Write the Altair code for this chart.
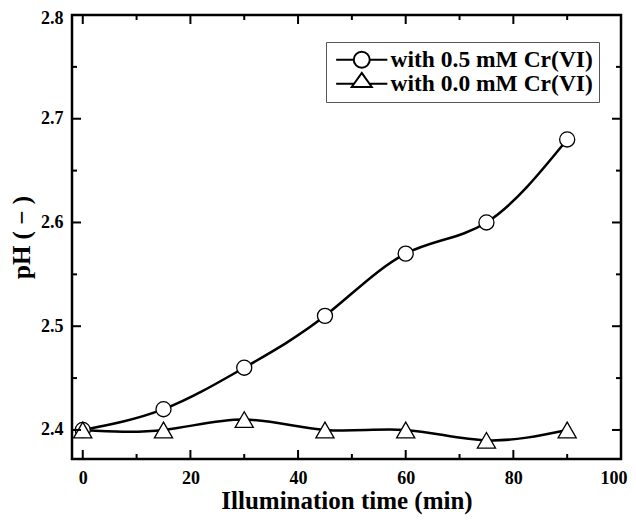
import altair as alt
import pandas as pd

# ---- data ----
time_min = [0, 15, 30, 45, 60, 75, 90]
ph_cr05 = [2.40, 2.42, 2.46, 2.51, 2.57, 2.60, 2.68]
ph_cr00 = [2.40, 2.40, 2.41, 2.40, 2.40, 2.39, 2.40]
series_names = ["with 0.5 mM Cr(VI)", "with 0.0 mM Cr(VI)"]

x_major = [0, 20, 40, 60, 80, 100]
x_minor = [10, 30, 50, 70, 90]
y_major = [2.4, 2.5, 2.6, 2.7, 2.8]
y_minor = [2.45, 2.55, 2.65, 2.75]

W, H = 549, 444
FONT = "Liberation Serif"

df05 = pd.DataFrame({"t": time_min, "ph": ph_cr05})
df00 = pd.DataFrame({"t": time_min, "ph": ph_cr00})
dfleg = pd.DataFrame({"series": series_names})

xs = alt.Scale(domain=[-2, 100], nice=False)
ys = alt.Scale(domain=[2.372, 2.8], nice=False, zero=False)

x_axis = alt.Axis(values=x_major, format="d", title="Illumination time (min)",
                  labelPadding=10, titlePadding=1, labelFlush=True, labelFlushOffset=6)
y_axis = alt.Axis(values=y_major, format=".1f", title="pH ( − )",
                  labelPadding=9, titlePadding=6, labelFlush=True, labelFlushOffset=6)


def X(f):
    return alt.X(f, scale=xs, axis=x_axis)


def Y(f):
    return alt.Y(f, scale=ys, axis=y_axis)


line05 = alt.Chart(df05).mark_line(color="black", strokeWidth=2.5, interpolate="natural").encode(
    x=X("t:Q"), y=Y("ph:Q"))
line00 = alt.Chart(df00).mark_line(color="black", strokeWidth=2.5, interpolate="natural").encode(
    x=X("t:Q"), y=Y("ph:Q"))
pts05 = alt.Chart(df05).mark_point(shape="circle", size=227, filled=True, fill="white", stroke="black",
                                    strokeWidth=1.3, opacity=1).encode(x=X("t:Q"), y=Y("ph:Q"))
pts00 = alt.Chart(df00).mark_point(shape="triangle-up", size=330, filled=True, fill="white", stroke="black",
                                    strokeWidth=1.3, opacity=1).encode(x=X("t:Q"), y=Y("ph:Q"))


def xticks(vals, length):
    d = pd.DataFrame({"t": vals})
    b = alt.Chart(d).mark_rule(color="black", strokeWidth=2)
    return [b.encode(x=X("t:Q"), y=alt.value(H), y2=alt.value(H - length)),
            b.encode(x=X("t:Q"), y=alt.value(0), y2=alt.value(length))]


def yticks(vals, length):
    d = pd.DataFrame({"ph": vals})
    b = alt.Chart(d).mark_rule(color="black", strokeWidth=2)
    return [b.encode(y=Y("ph:Q"), x=alt.value(0), x2=alt.value(length)),
            b.encode(y=Y("ph:Q"), x=alt.value(W), x2=alt.value(W - length))]


ticks = xticks(x_major, 9) + xticks(x_minor, 5) + yticks(y_major, 9) + yticks(y_minor, 5)

circ_path = "M-3.2,0H-1M1,0H3.2M-1,0A1,1,0,1,1,1,0A1,1,0,1,1,-1,0"
tri_path = "M-3.2,0H-0.97M0.97,0H3.2M0,-1.35L1.25,0.4L-1.25,0.4Z"

legend_layer = alt.Chart(dfleg).mark_point(filled=False, opacity=1).transform_filter("false").encode(
    shape=alt.Shape("series:N", scale=alt.Scale(domain=series_names, range=[circ_path, tri_path]),
                    legend=alt.Legend(title=None, orient="none", legendX=254, legendY=27,
                                      strokeColor="#555", fillColor="white", padding=6,
                                      labelFont=FONT, labelFontSize=23.5, labelFontWeight="bold",
                                      labelColor="black", labelLimit=400, symbolSize=256,
                                      symbolStrokeColor="black",
                                      symbolFillColor="white", symbolStrokeWidth=2, symbolOpacity=1,
                                      symbolOffset=18, labelOffset=17, rowPadding=-5))
)

chart = alt.layer(line05, line00, pts05, pts00, *ticks, legend_layer).properties(
    width=W, height=H,
    autosize=alt.AutoSizeParams(type="none"),
    padding={"left": 64, "top": 7, "right": 7, "bottom": 56},
).configure_view(stroke="black", strokeWidth=2.5).configure_axis(
    domain=False, ticks=False, grid=False,
    labelFont=FONT, labelFontSize=18, labelFontWeight="bold", labelColor="black",
    titleFont=FONT, titleFontSize=25, titleFontWeight="bold", titleColor="black",
)

chart.save("out.html", embed_options={"renderer": "svg", "actions": False})
